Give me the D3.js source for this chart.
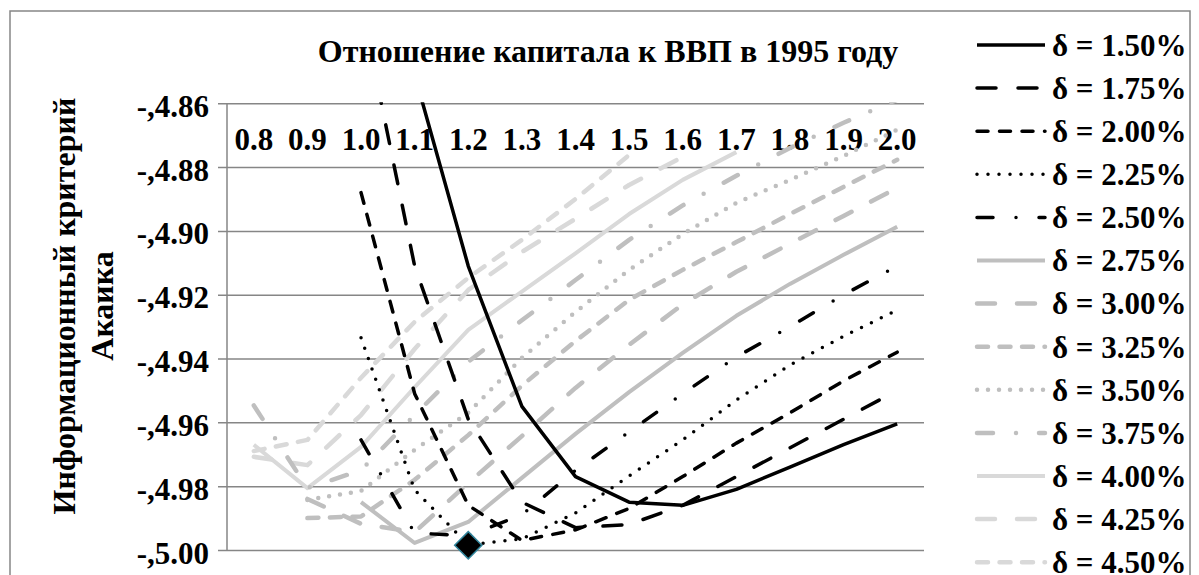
<!DOCTYPE html>
<html><head><meta charset="utf-8">
<script src="https://cdnjs.cloudflare.com/ajax/libs/d3/7.8.5/d3.min.js"></script>
<style>body{margin:0;background:#fff}svg{display:block}text{font-family:"Liberation Serif","Times New Roman",serif;font-weight:bold;fill:#000}</style>
</head><body><svg id="c" width="1199" height="575"></svg>
<script>
const categories = ["0.8","0.9","1.0","1.1","1.2","1.3","1.4","1.5","1.6","1.7","1.8","1.9","2.0"];
const yTicks = [-5.00,-4.98,-4.96,-4.94,-4.92,-4.90,-4.88,-4.86];
const yTickLabels = ["-,5.00","-,4.98","-,4.96","-,4.94","-,4.92","-,4.90","-,4.88","-,4.86"];
const seriesNames = ["δ = 1.50%","δ = 1.75%","δ = 2.00%","δ = 2.25%","δ = 2.50%","δ = 2.75%","δ = 3.00%","δ = 3.25%","δ = 3.50%","δ = 3.75%","δ = 4.00%","δ = 4.25%","δ = 4.50%"];
const s150 = [null,null,null,-4.851,-4.911,-4.955,-4.977,-4.985,-4.986,-4.981,-4.974,-4.967,-4.9605];
const s175 = [null,null,-4.829,-4.911,-4.959,-4.985,-4.993,-4.992,-4.986,-4.977,-4.968,-4.959,-4.950];
const s200 = [null,null,-4.888,-4.951,-4.986,-4.997,-4.9937,-4.987,-4.977,-4.9665,-4.957,-4.947,-4.938];
const s225 = [null,null,-4.9335,-4.9812,-4.9984,-4.9965,-4.9884,-4.9768,-4.9655,-4.953,-4.942,-4.933,-4.9248];
const s250 = [null,null,-4.9655,-4.9947,-4.9955,-4.989,-4.975,-4.963,-4.951,-4.9395,-4.930,-4.920,-4.911];
const s275 = [null,null,-4.985,-4.9978,-4.9912,-4.9774,-4.9636,-4.9505,-4.9382,-4.9266,-4.9166,-4.9075,-4.8987];
const s300 = [null,-4.984,-4.9918,-4.9944,-4.979,-4.9643,-4.9492,-4.9357,-4.923,-4.9128,-4.904,-4.8953,-4.8865];
const s325 = [null,-4.990,-4.9895,-4.978,-4.964,-4.9485,-4.9345,-4.9216,-4.9122,-4.9035,-4.8947,-4.8862,-4.8777];
const s350 = [null,-4.9843,-4.9815,-4.9686,-4.957,-4.9398,-4.9254,-4.9122,-4.901,-4.8912,-4.884,-4.8765,-4.8683];
const s375 = [-4.9547,-4.9806,-4.975,-4.9577,-4.941,-4.928,-4.9154,-4.9028,-4.892,-4.8827,-4.874,-4.8661,-4.8589];
const s400 = [-4.967,-4.9806,-4.9677,-4.949,-4.931,-4.919,-4.907,-4.8947,-4.884,-4.8753,null,null,null];
const s425 = [-4.9708,-4.9734,-4.9577,-4.937,-4.9185,-4.9066,-4.8962,-4.8856,-4.8768,null,null,null,null];
const s450 = [-4.969,-4.9655,-4.946,-4.9285,-4.9147,-4.9028,-4.890,-4.8762,null,null,null,null,null];
const minCategory = "1.2";
const minValue = -4.9985;
const titleText = "Отношение капитала к ВВП в 1995 году";
const yTitleLines = ["Информационный критерий","Акаика"];

const seriesData = [s150,s175,s200,s225,s250,s275,s300,s325,s350,s375,s400,s425,s450];
const BLACK="#000000", MID="#bfbfbf", LIGHT="#d9d9d9";
const styles = [
 {c:BLACK,w:3.5,d:null,cap:"butt"},
 {c:BLACK,w:3.5,d:"19 22",cap:"round"},
 {c:BLACK,w:3.5,d:"11 11.5",cap:"round"},
 {c:BLACK,w:3.5,d:"0 11",cap:"round"},
 {c:BLACK,w:3.5,d:"16 23 0 23",cap:"round"},
 {c:MID,w:4,d:null,cap:"butt"},
 {c:MID,w:4.5,d:"18 22",cap:"round"},
 {c:MID,w:4.5,d:"11 11.5",cap:"round"},
 {c:MID,w:4.5,d:"0 11",cap:"round"},
 {c:MID,w:4.5,d:"16 23 0 23",cap:"round"},
 {c:LIGHT,w:4,d:null,cap:"butt"},
 {c:LIGHT,w:4.5,d:"18 22",cap:"round"},
 {c:LIGHT,w:4.5,d:"11 11.5",cap:"round"}
];

const svg = d3.select("#c");
svg.append("rect").attr("x",0).attr("y",0).attr("width",1199).attr("height",575).attr("fill","#fff");
svg.append("rect").attr("x",10).attr("y",11).attr("width",1180).attr("height",620)
  .attr("fill","none").attr("stroke","#868686").attr("stroke-width",1.5);

const L=227, R=924, T=103.3, B=550;
const x = d3.scalePoint().domain(categories).range([L,R]).padding(0.5);
const y = d3.scaleLinear().domain([-5.00,-4.86]).range([B,T]);

const yAxis = d3.axisLeft(y).tickValues(yTicks).tickSize(-(R-L)).tickSizeOuter(0)
  .tickFormat((d,i)=>yTickLabels[i]).tickPadding(18);
const gy = svg.append("g").attr("transform",`translate(${L},0)`).call(yAxis);
gy.select(".domain").remove();
gy.selectAll(".tick line").attr("stroke","#868686").attr("stroke-width",1.5).attr("x1",-9);
gy.selectAll(".tick text").attr("font-size",31).attr("font-family","Liberation Serif").attr("font-weight","bold").attr("dy","0.42em");
svg.append("line").attr("x1",L).attr("x2",L).attr("y1",T).attr("y2",B).attr("stroke","#868686").attr("stroke-width",1.5);

svg.append("g").selectAll("text").data(categories).join("text")
  .attr("x",d=>x(d)).attr("y",150).attr("text-anchor","middle").attr("font-size",31).text(d=>d);

svg.append("clipPath").attr("id","pc").append("rect").attr("x",L).attr("y",T-1).attr("width",R-L).attr("height",B-T+10);
const line = d3.line().defined(d=>d.v!==null).x(d=>x(d.c)).y(d=>y(d.v));
const gl = svg.append("g").attr("clip-path","url(#pc)");
const order = [12,11,10,9,8,7,6,5,4,3,2,1,0];
order.forEach(i=>{
  const st=styles[i];
  const pts = categories.map((c,k)=>({c:c,v:seriesData[i][k]}));
  gl.append("path").attr("d",line(pts)).attr("fill","none").attr("stroke",st.c)
    .attr("stroke-width",st.w).attr("stroke-linejoin","round").attr("stroke-linecap",st.cap)
    .attr("stroke-dasharray",st.d);
});
svg.append("path").attr("d",d3.symbol(d3.symbolSquare,370)())
  .attr("transform",`translate(${x(minCategory)},${y(minValue)}) rotate(45)`)
  .attr("fill","#000").attr("stroke","#31859c").attr("stroke-width",1.5);

svg.append("text").attr("x",608).attr("y",62).attr("text-anchor","middle").attr("font-size",32).text(titleText);
const yt = svg.append("text").attr("transform","translate(75,306) rotate(-90)").attr("text-anchor","middle").attr("font-size",32);
yt.append("tspan").attr("x",0).attr("dy",0).text(yTitleLines[0]);
yt.append("tspan").attr("x",0).attr("dy",38).text(yTitleLines[1]);

const lg = svg.append("g");
seriesNames.forEach((n,i)=>{
  const ry = 45 + 43.1*i; const st=styles[i];
  lg.append("line").attr("x1",977).attr("x2",1045).attr("y1",ry).attr("y2",ry)
    .attr("stroke",st.c).attr("stroke-width",st.w).attr("stroke-linecap",st.cap).attr("stroke-dasharray",st.d);
  lg.append("text").attr("x",1052).attr("y",ry).attr("dy","0.35em").attr("font-size",31).text(n);
});
</script></body></html>
